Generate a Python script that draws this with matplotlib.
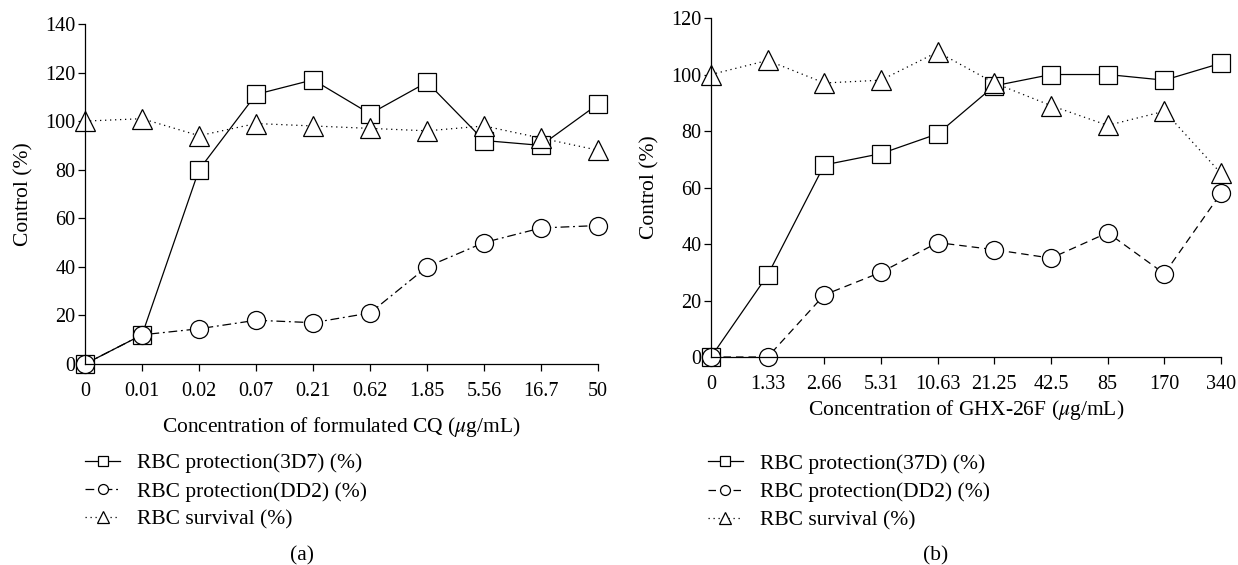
import matplotlib
matplotlib.use('Agg')
import matplotlib.pyplot as plt
from matplotlib import rc

FONT_SIZE = 15.5
TICK_SIZE = 14.5
rc('font', family=['Liberation Serif', 'DejaVu Serif'], size=FONT_SIZE)
rc('mathtext', fontset='stix')
rc('axes', linewidth=0.9)
rc('xtick', direction='out', labelsize=TICK_SIZE)
rc('ytick', direction='out', labelsize=TICK_SIZE)

# panel (a): formulated CQ
conc_a = ['0', '0.01', '0.02', '0.07', '0.21', '0.62', '1.85', '5.56', '16.7', '50']
prot_3d7 = [0, 12, 80, 111, 117, 103, 116, 92, 90, 107]
prot_dd2_a = [0, 12, 14.5, 18, 17, 21, 40, 50, 56, 57]
survival_a = [100, 101, 94, 99, 98, 97, 96, 98, 93, 88]

# panel (b): GHX-26F
conc_b = ['0', '1.33', '2.66', '5.31', '10.63', '21.25', '42.5', '85', '170', '340']
prot_37d = [0, 29, 68, 72, 79, 96, 100, 100, 98, 104]
prot_dd2_b = [0, 0, 22, 30, 40.5, 38, 35, 44, 29.5, 58]
survival_b = [100, 105, 97, 98, 108, 97, 89, 82, 87, 65]


def draw_panel(ax, labels, series, ymax, yticks, xlabel):
    x = list(range(len(labels)))
    for vals, ls, marker, ms, name in series:
        ax.plot(x, vals, color='black', linewidth=0.9, linestyle=ls,
                marker=marker, markersize=ms, markerfacecolor='white',
                markeredgecolor='black', markeredgewidth=0.9,
                clip_on=False, label=name)
    ax.set_xlim(0, len(labels) - 1)
    ax.set_ylim(0, ymax)
    ax.set_xticks(x)
    ax.set_xticklabels(labels)
    ax.set_yticks(yticks)
    ax.tick_params(axis='both', length=5, width=0.9)
    ax.tick_params(axis='x', pad=8)
    ax.tick_params(axis='y', pad=2)
    ax.spines['top'].set_visible(False)
    ax.spines['right'].set_visible(False)
    ax.set_ylabel('Control (%)')
    ax.set_xlabel(xlabel)


fig = plt.figure(figsize=(12.38, 5.65), dpi=100)
ax_a = fig.add_axes([0.0687, 0.3558, 0.4144, 0.6018])
ax_b = fig.add_axes([0.5743, 0.3681, 0.4120, 0.6000])

dashdot = (0, (7, 3, 1.5, 3))
dotted = (0, (1, 3))
dashed = (0, (6, 4))

draw_panel(ax_a, conc_a,
           [(prot_3d7, '-', 's', 13, 'RBC protection(3D7) (%)'),
            (prot_dd2_a, dashdot, 'o', 13, 'RBC protection(DD2) (%)'),
            (survival_a, dotted, '^', 15, 'RBC survival (%)')],
           140, range(0, 141, 20),
           r'Concentration of formulated CQ ($\mu$g/mL)')
draw_panel(ax_b, conc_b,
           [(prot_37d, '-', 's', 13, 'RBC protection(37D) (%)'),
            (prot_dd2_b, dashed, 'o', 13, 'RBC protection(DD2) (%)'),
            (survival_b, dotted, '^', 15, 'RBC survival (%)')],
           120, range(0, 121, 20),
           r'Concentration of GHX-26F ($\mu$g/mL)')

ax_a.xaxis.labelpad = 10
ax_b.xaxis.labelpad = 3
ax_a.yaxis.labelpad = 8
ax_b.yaxis.labelpad = 8

for ax, anchor in ((ax_a, (0.062, 0.213)), (ax_b, (0.565, 0.212))):
    ax.legend(loc='upper left', bbox_to_anchor=anchor,
              bbox_transform=fig.transFigure, frameon=False,
              markerscale=0.55, handlelength=1.6, handletextpad=0.8,
              labelspacing=0.38, borderaxespad=0)

fig.text(0.244, 0.0, '(a)', ha='center', va='bottom')
fig.text(0.756, 0.0, '(b)', ha='center', va='bottom')

plt.savefig('out.png', dpi=100)
